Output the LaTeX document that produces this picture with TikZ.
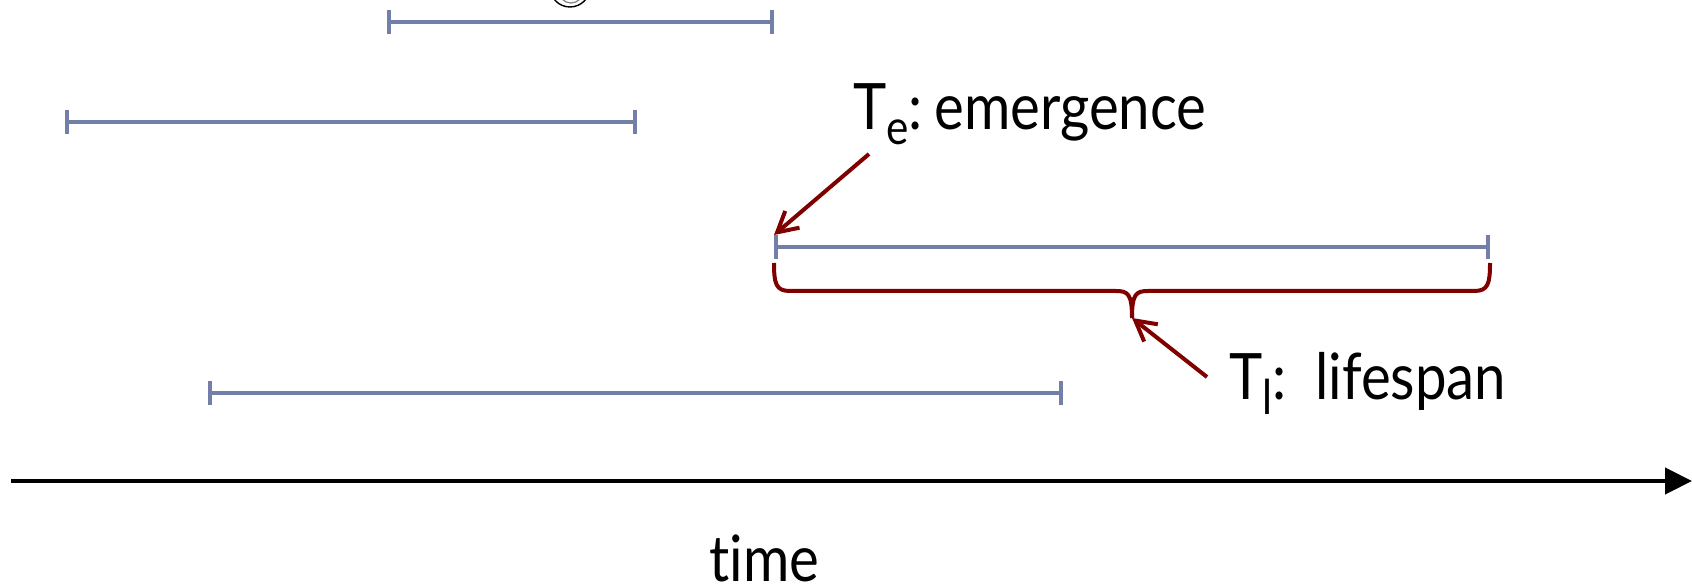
\documentclass[tikz,border=0pt]{standalone}
\usepackage{fontspec}
\setmainfont{Lato}[FakeStretch=0.88,Ligatures=NoCommon]
\usetikzlibrary{arrows.meta}
\definecolor{segblue}{RGB}{114,127,168}
\definecolor{darkred}{RGB}{128,0,0}
\newcommand{\lowsub}[1]{\raisebox{-7.5pt}{\fontsize{24}{24}\selectfont #1}}
\begin{document}
\begin{tikzpicture}[x=0.5pt,y=-0.5pt,
  seg/.style={segblue,line width=2pt,{Bar[width=12pt]}-{Bar[width=12pt]}},
  redarrow/.style={darkred,line width=2pt,-{Straight Barb[length=10pt,width=11pt]}},
  brace/.style={darkred,line width=2pt,line join=round},
  lbl/.style={anchor=base west,inner sep=0pt,font=\fontsize{32}{36}\selectfont},
  axis/.style={black,line width=2.2pt,-{Triangle[length=13.5pt,width=13pt]}}]
\useasboundingbox (0,0) rectangle (1692,587);
% partially visible glyph at the top edge
\begin{scope}
\clip (0,0) rectangle (1692,587);
\draw[black,line width=0.7pt] (570,-13) circle[radius=20];
\draw[gray,line width=0.6pt] (571,-9) circle[radius=12];
\end{scope}
% intervals
\coordinate (s1a) at (387,22);  \coordinate (s1b) at (774,22);
\coordinate (s2a) at (65,122);  \coordinate (s2b) at (637,122);
\coordinate (s3a) at (774,247); \coordinate (s3b) at (1490,247);
\coordinate (s4a) at (208,393); \coordinate (s4b) at (1063,393);
\draw[seg] (s1a) -- (s1b);
\draw[seg] (s2a) -- (s2b);
\draw[seg] (s3a) -- (s3b);
\draw[seg] (s4a) -- (s4b);
% brace under the third interval
\coordinate (bl) at (774,263);
\coordinate (br) at (1490,263);
\coordinate (bracetip) at (1132,318);
\draw[brace] (bl) .. controls (774,284) and (776,291) .. (790,291) -- (1116,291)
  .. controls (1128,291) and (1132,294) .. (bracetip);
\draw[brace] (br) .. controls (1490,284) and (1488,291) .. (1474,291) -- (1148,291)
  .. controls (1136,291) and (1132,294) .. (bracetip);
% labels
\node[lbl] (em) at (853,130) {T\lowsub{e}:\hspace{0.18em}emergence};
\node[lbl] (ls) at (1229,400) {T\lowsub{l}:\ \ lifespan};
\coordinate (emtail) at (869,154);
\coordinate (s3top) at (774,235);
\coordinate (lstail) at (1207,377);
\draw[redarrow] (emtail) -- (s3top);
\draw[redarrow] (lstail) -- (bracetip);
% time axis
\coordinate (ax0) at (11,481);
\coordinate (ax1) at (1692,481);
\draw[axis] (ax0) -- (ax1);
\node[lbl,text depth=0pt] (time) at (709,581) {time};
\end{tikzpicture}
\end{document}
